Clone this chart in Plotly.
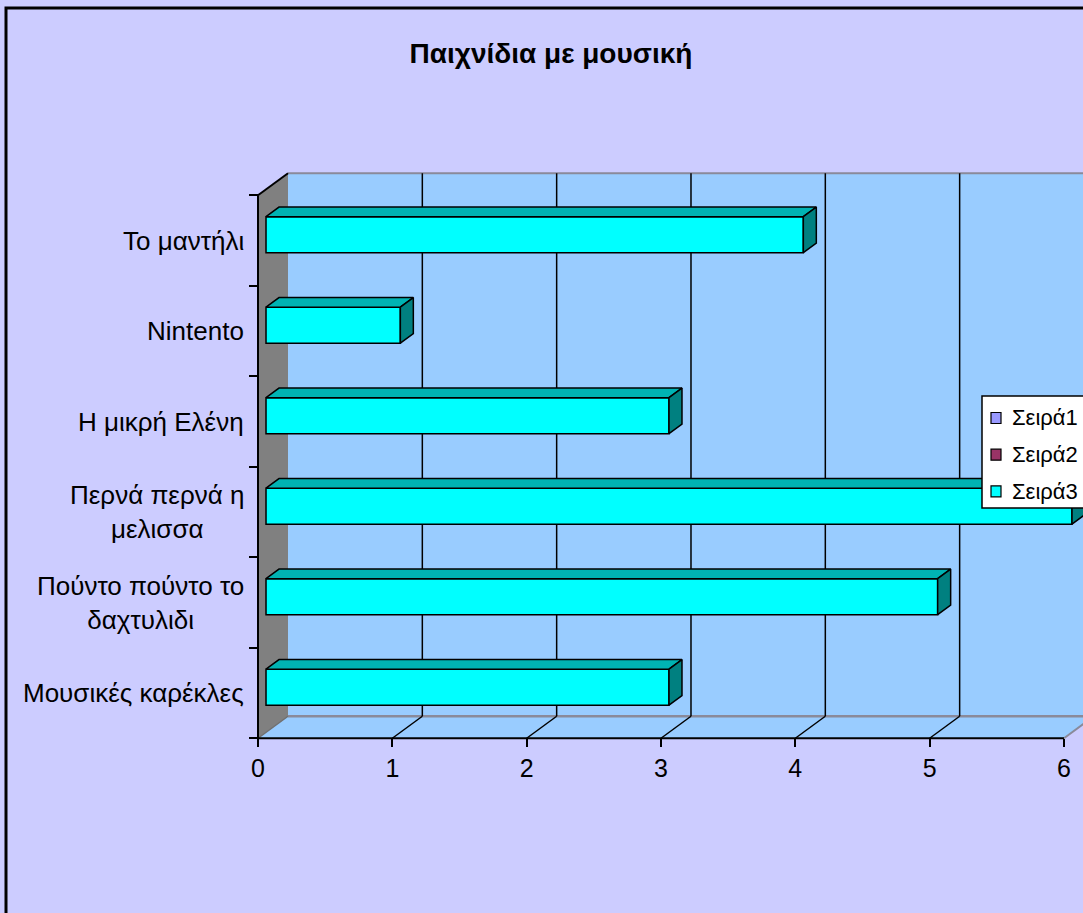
import plotly.graph_objects as go

# ---------------- data ----------------
categories = ["Μουσικές καρέκλες", "Πούντο πούντο το<br>δαχτυλιδι", "Περνά περνά η<br>μελισσα",
              "Η μικρή Ελένη", "Nintento", "Το μαντήλι"]
series_names = ["Σειρά1", "Σειρά2", "Σειρά3"]
series1 = [None, None, None, None, None, None]
series2 = [None, None, None, None, None, None]
series3 = [3, 5, 6, 3, 1, 4]
x_ticks = [0, 1, 2, 3, 4, 5, 6]
title = "Παιχνίδια με μουσική"

# ---------------- styling / geometry ----------------
W, H = 1083, 913
PXX, X0 = 134.33, 258.0     # px per x unit, px of x=0 on front plane
PXY, Y0 = 90.5, 693.0       # px per category, px of first category centre
DX, DY = 30 / PXX, 22 / PXY  # 3-D depth offset in data units
F1, F2 = 0.267, 0.70         # bar front/back depth fractions
BAR_H = 36 / PXY
XMAX = max(x_ticks)
n = len(categories)
ylo, yhi = -0.5, n - 0.5

PAPER = "#CCCCFF"
WALL = "#99CCFF"
SIDEWALL = "#808080"
EDGE_GRAY = "#8a8a9a"
series_colors = ["#9999FF", "#993366", "#00FFFF"]
TOP3, SIDE3 = "#00B3B3", "#008080"
FONT = "Liberation Sans, Arial, sans-serif"

fig = go.Figure()
shapes = []

# back wall
shapes.append(dict(type="rect", xref="x", yref="y", x0=DX, x1=XMAX + DX, y0=ylo + DY, y1=yhi + DY,
                   fillcolor=WALL, line=dict(width=0), layer="below"))
# floor
shapes.append(dict(type="path", xref="x", yref="y",
                   path=f"M0,{ylo} L{XMAX},{ylo} L{XMAX + DX},{ylo + DY} L{DX},{ylo + DY} Z",
                   fillcolor=WALL, line=dict(width=0), layer="below"))
# gray edges of back wall / floor
shapes.append(dict(type="line", xref="x", yref="y", x0=DX, x1=XMAX + DX, y0=yhi + DY, y1=yhi + DY,
                   line=dict(color=EDGE_GRAY, width=2), layer="below"))
shapes.append(dict(type="line", xref="x", yref="y", x0=DX, x1=XMAX + DX, y0=ylo + DY, y1=ylo + DY,
                   line=dict(color=EDGE_GRAY, width=2.5), layer="below"))
shapes.append(dict(type="line", xref="x", yref="y", x0=XMAX, x1=XMAX + DX, y0=ylo, y1=ylo + DY,
                   line=dict(color=EDGE_GRAY, width=2), layer="below"))
# gridlines on back wall and floor
for t in x_ticks[1:-1]:
    shapes.append(dict(type="line", xref="x", yref="y", x0=t + DX, x1=t + DX, y0=ylo + DY, y1=yhi + DY,
                       line=dict(color="black", width=1.5), layer="below"))
    shapes.append(dict(type="line", xref="x", yref="y", x0=t, x1=t + DX, y0=ylo, y1=ylo + DY,
                       line=dict(color="black", width=1.5), layer="below"))
# left side wall
shapes.append(dict(type="path", xref="x", yref="y",
                   path=f"M0,{ylo} L0,{yhi} L{DX},{yhi + DY} L{DX},{ylo + DY} Z",
                   fillcolor=SIDEWALL, line=dict(width=0), layer="below"))
shapes.append(dict(type="line", xref="x", yref="y", x0=0, x1=DX, y0=yhi, y1=yhi + DY,
                   line=dict(color="black", width=2), layer="below"))
shapes.append(dict(type="line", xref="x", yref="y", x0=0, x1=DX, y0=ylo, y1=ylo + DY,
                   line=dict(color="#707070", width=1.5), layer="below"))
# front axis edges
shapes.append(dict(type="line", xref="x", yref="y", x0=0, x1=0, y0=ylo, y1=yhi,
                   line=dict(color="black", width=2), layer="below"))
shapes.append(dict(type="line", xref="x", yref="y", x0=0, x1=XMAX, y0=ylo, y1=ylo,
                   line=dict(color="black", width=2), layer="below"))
# chart border
shapes.append(dict(type="rect", xref="paper", yref="paper", x0=6 / W, x1=1.05, y0=-0.05, y1=1 - 8 / H,
                   line=dict(color="black", width=3), fillcolor="rgba(0,0,0,0)", layer="above"))

# 3-D faces of series 3 bars (top and side)
for i, v in enumerate(series3):
    if v is None:
        continue
    yc = i + F1 * DY
    top = yc + BAR_H / 2
    bot = yc - BAR_H / 2
    xl = F1 * DX
    xr = xl + v
    ddx = (F2 - F1) * DX
    ddy = (F2 - F1) * DY
    fig.add_trace(go.Scatter(x=[xl, xr, xr + ddx, xl + ddx, xl], y=[top, top, top + ddy, top + ddy, top],
                             mode="lines", fill="toself", fillcolor=TOP3,
                             line=dict(color="black", width=1.5), showlegend=False, hoverinfo="skip"))
    fig.add_trace(go.Scatter(x=[xr, xr + ddx, xr + ddx, xr, xr], y=[top, top + ddy, bot + ddy, bot, top],
                             mode="lines", fill="toself", fillcolor=SIDE3,
                             line=dict(color="black", width=1.5), showlegend=False, hoverinfo="skip"))

ypos = [i + F1 * DY for i in range(n)]
for name, vals, col in zip(series_names, [series1, series2, series3], series_colors):
    fig.add_trace(go.Bar(name=name, orientation="h", x=vals, y=ypos, base=[F1 * DX] * n,
                         width=BAR_H, marker=dict(color=col, line=dict(color="black", width=1.5)),
                         showlegend=False))

# category labels
annotations = []
for i, c in enumerate(categories):
    annotations.append(dict(x=-12 / PXX, y=i, xref="x", yref="y", text=c, showarrow=False,
                            xanchor="right", yanchor="middle", align="center",
                            font=dict(family=FONT, size=26, color="black")))

# legend box (Excel style)
LX0, LY0, LY1 = 982, 396, 508
shapes.append(dict(type="rect", xref="paper", yref="paper", x0=LX0 / W, x1=1.02,
                   y0=1 - LY1 / H, y1=1 - LY0 / H, fillcolor="white",
                   line=dict(color="black", width=1.5), layer="above"))
for k, (name, col) in enumerate(zip(series_names, series_colors)):
    cy = 418 + 36.7 * k
    shapes.append(dict(type="rect", xref="paper", yref="paper", x0=991 / W, x1=1001 / W,
                       y0=1 - (cy + 5.5) / H, y1=1 - (cy - 5.5) / H, fillcolor=col,
                       line=dict(color="black", width=1.2), layer="above"))
    annotations.append(dict(x=1010 / W, y=1 - cy / H, xref="paper", yref="paper", text=name,
                            showarrow=False, xanchor="left", yanchor="middle",
                            font=dict(family=FONT, size=22, color="black")))

fig.update_layout(
    width=W, height=H,
    margin=dict(l=0, r=0, t=0, b=0),
    paper_bgcolor=PAPER, plot_bgcolor=PAPER,
    shapes=shapes,
    annotations=annotations,
    barmode="overlay",
    showlegend=False,
    title=dict(text=f"<b>{title}</b>", x=551 / W, xanchor="center", y=1 - 53 / H, yanchor="middle",
               font=dict(family=FONT, size=28, color="black")),
    xaxis=dict(range=[-X0 / PXX, (W - X0) / PXX], anchor="free", position=1 - (Y0 + 0.5 * PXY) / H,
               tickvals=x_ticks, ticktext=[str(t) for t in x_ticks], ticks="outside", ticklen=8,
               tickwidth=1.5, tickcolor="black", showgrid=False, zeroline=False, showline=False,
               tickfont=dict(family=FONT, size=25, color="black")),
    yaxis=dict(range=[(Y0 - H) / PXY, Y0 / PXY], anchor="free", position=X0 / W,
               tickvals=[k - 0.5 for k in range(n + 1)], ticks="outside", ticklen=9, tickwidth=1.5,
               tickcolor="black", showticklabels=False, showgrid=False, zeroline=False, showline=False),
)

fig.write_html("out.html", post_script="document.body.style.margin='0';",
               config={"displayModeBar": False})
